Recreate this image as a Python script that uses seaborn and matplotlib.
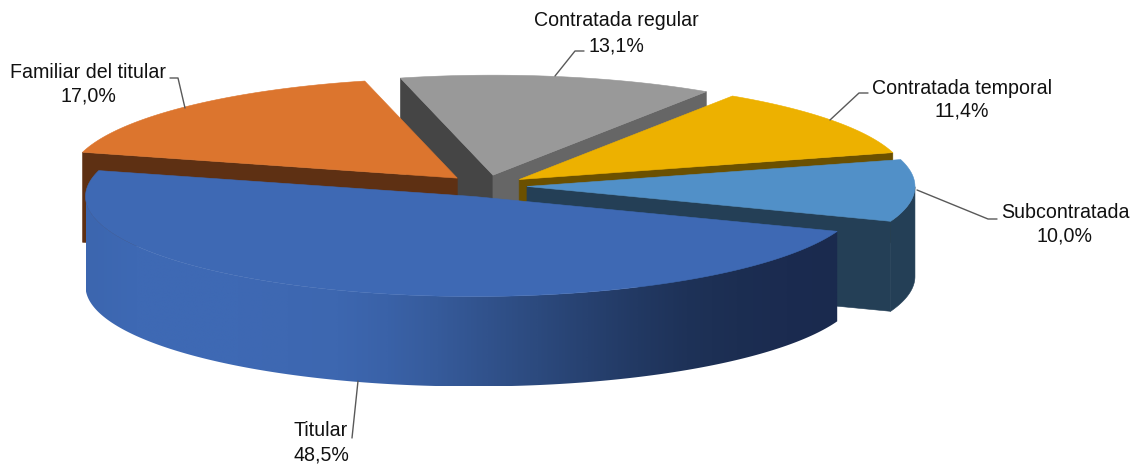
import numpy as np
import matplotlib
matplotlib.use("Agg")
import matplotlib.pyplot as plt
from matplotlib.patches import Polygon
import seaborn as sns

# Datos del gráfico
categorias = ["Titular", "Familiar del titular", "Contratada regular", "Contratada temporal", "Subcontratada"]
valores = [48.5, 17.0, 13.1, 11.4, 10.0]
etiquetas = ["48,5%", "17,0%", "13,1%", "11,4%", "10,0%"]

# Colores: cara superior, pared izquierda/exterior, pared derecha
colores_top = ["#3E69B4", "#DC752E", "#999999", "#EDB100", "#5190C8"]
colores_izq = ["#3E69B4", "#5E3013", "#454545", "#6B5000", "#243F56"]
colores_der = ["#1B2B50", "#5E3013", "#666666", "#6B5000", "#243F56"]
degradado = ["#3C66AF", "#3E69B4", "#3E69B4", "#3E69B4", "#3E68B2", "#3D67B0", "#3A62A8", "#365B9B",
             "#31528C", "#2C4A7E", "#274170", "#223963", "#1E3258", "#1C2E52", "#1B2B50", "#1A2A4E"]

# Posición de los textos (centro x, y de las dos líneas) y líneas guía
pos_texto = [(321, 431, 455), (88, 73, 96), (616, 21, 46), (962, 88, 111), (1065, 213, 236)]
guias = [
    [(358, 381), (352, 438)],
    [(185, 108), (178, 78), (170, 78)],
    [(555, 76), (575, 51), (584, 51)],
    [(830, 120), (859, 93), (868, 93)],
    [(917, 190), (988, 219), (997, 219)],
]

# Geometría de la tarta 3D
cx, cy = 486, 186
rx, ry = 388, 100
sep_x, sep_y = 41, 11  # separación de las porciones
prof = 90
inicio = -20.4

sns.set_theme(style="white")
plt.rcParams["font.family"] = ["Liberation Sans", "DejaVu Sans"]

fig, ax = plt.subplots(figsize=(11.45, 4.68), dpi=100)
fig.subplots_adjust(0, 0, 1, 1)
ax.axis("off")


def punto(x0, y0, t):
    return x0 + rx * np.cos(t), y0 - ry * np.sin(t)


def pared(p, q, color, z):
    xs = [p[0], q[0], q[0], p[0]]
    ys = [p[1], q[1], q[1] + prof, p[1] + prof]
    ax.fill(xs, ys, color=color, lw=0.4, zorder=z)


angulo = inicio
porciones = []
for v in valores:
    t1 = np.radians(angulo)
    t2 = np.radians(angulo - v * 3.6)
    porciones.append((t1, t2))
    angulo -= v * 3.6

# de atrás hacia delante: el titular va al final
for z, i in enumerate([2, 1, 3, 4, 0]):
    t1, t2 = porciones[i]
    tm = (t1 + t2) / 2
    x0 = cx + sep_x * np.cos(tm)
    y0 = cy - sep_y * np.sin(tm)
    ts = np.linspace(t1, t2, 200)
    bx, by = punto(x0, y0, ts)
    qx, qy = punto(x0, y0, tm)
    base = z * 10

    # paredes radiales que miran al espectador
    for t, color in zip([t1, t2], [colores_izq[i], colores_der[i]]):
        px, py = punto(x0, y0, t)
        recta = y0 + (py - y0) * (qx - x0) / (px - x0)
        if qy < recta:
            pared((x0, y0), (px, py), color, base + 1)

    # pared exterior
    frente = np.sin(ts) <= 0
    if frente.any():
        fx, fy = bx[frente], by[frente]
        poly_x = np.r_[fx, fx[::-1]]
        poly_y = np.r_[fy, fy[::-1] + prof]
        if i == 0:
            pal = np.array(sns.blend_palette(degradado, n_colors=512))[None, :, :]
            img = ax.imshow(pal, extent=[fx.min(), fx.max(), poly_y.max(), poly_y.min()],
                            aspect="auto", interpolation="bilinear", zorder=base + 2)
            img.set_clip_path(Polygon(np.c_[poly_x, poly_y], transform=ax.transData))
        else:
            ax.fill(poly_x, poly_y, color=colores_izq[i], lw=0.4, zorder=base + 2)

    # cara superior
    ax.fill(np.r_[x0, bx], np.r_[y0, by], color=colores_top[i], lw=0.4, zorder=base + 3)

# etiquetas y líneas guía
for cat, et, (xt, y1, y2), guia in zip(categorias, etiquetas, pos_texto, guias):
    ax.text(xt, y1, cat, ha="center", va="center", fontsize=14.1, color="#111111", zorder=100)
    ax.text(xt, y2, et, ha="center", va="center", fontsize=14.1, color="#111111", zorder=100)
    gx, gy = zip(*guia)
    ax.plot(gx, gy, color="#595959", lw=1, zorder=99)

ax.set_xlim(0, 1145)
ax.set_ylim(468, 0)

plt.savefig("out.png", dpi=100)
